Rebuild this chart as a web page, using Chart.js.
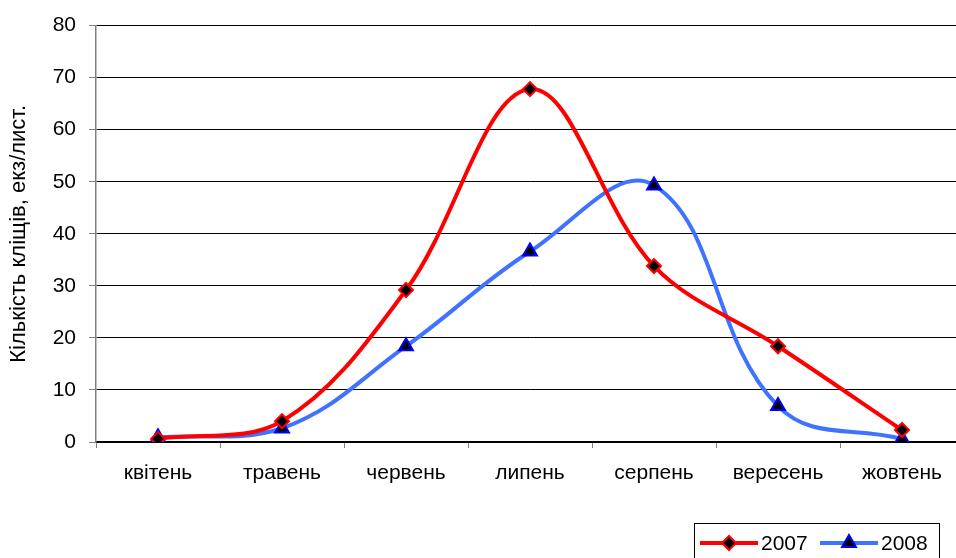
<!DOCTYPE html>
<html>
<head>
<meta charset="utf-8">
<script src="https://cdn.jsdelivr.net/npm/chart.js@4"></script>
<style>
  body { margin: 0; overflow: hidden; background: #fff; }
  canvas { display: block; }
</style>
</head>
<body>
<canvas id="myChart" width="974" height="558"></canvas>
<script>
const months = ["квітень", "травень", "червень", "липень", "серпень", "вересень", "жовтень"];
const ticks2007 = [0.6, 4.0, 29.2, 67.8, 33.8, 18.4, 2.3];
const ticks2008 = [0.9, 2.6, 18.4, 36.6, 49.3, 6.9, 0.6];
const yTitle = "Кількість кліщів, екз/лист.";

const FONT = "'Liberation Sans', Arial, sans-serif";

// legend drawn by hand, boxed at the bottom right like the original
const boxLegend = {
  id: "boxLegend",
  afterDraw(chart) {
    const c = chart.ctx;
    c.save();
    c.strokeStyle = "#000";
    c.lineWidth = 1;
    c.strokeRect(694.5, 523.5, 245, 50);
    const items = [
      { x: 700, ds: 0 },
      { x: 820, ds: 1 },
    ];
    items.forEach(it => {
      const d = chart.data.datasets[it.ds];
      c.strokeStyle = d.borderColor;
      c.lineWidth = 4;
      c.beginPath();
      c.moveTo(it.x, 543);
      c.lineTo(it.x + 58, 543);
      c.stroke();
      c.fillStyle = d.pointBackgroundColor;
      c.strokeStyle = d.pointBorderColor;
      c.lineWidth = d.pointBorderWidth;
      Chart.helpers.drawPoint(c, {
        pointStyle: d.pointStyle,
        radius: d.pointRadius,
        borderWidth: d.pointBorderWidth,
      }, it.x + 29, 543);
      c.fillStyle = "#000";
      c.font = "21px " + FONT;
      c.textBaseline = "middle";
      c.fillText(d.label, it.x + 61, 544);
    });
    c.restore();
  },
};

const ctx = document.getElementById("myChart");

new Chart(ctx, {
  type: "line",
  data: {
    labels: months,
    datasets: [
      {
        label: "2007",
        data: ticks2007,
        borderColor: "#ff0000",
        borderWidth: 4,
        tension: 0.36,
        pointStyle: "rectRot",
        pointRadius: 7,
        pointBackgroundColor: "#000",
        pointBorderColor: "#ff0000",
        pointBorderWidth: 2,
      },
      {
        label: "2008",
        data: ticks2008,
        borderColor: "#3f72ff",
        borderWidth: 4,
        tension: 0.4,
        pointStyle: "triangle",
        pointRadius: 8,
        pointBackgroundColor: "#000",
        pointBorderColor: "#0000ff",
        pointBorderWidth: 2,
      },
    ],
  },
  options: {
    responsive: false,
    animation: false,
    layout: { padding: { top: 25, right: 0, left: 0, bottom: 0 } },
    plugins: {
      legend: { display: false },
      tooltip: { enabled: false },
    },
    scales: {
      x: {
        offset: true,
        afterFit(scale) { scale.height = 116; },
        grid: {
          offset: true,
          drawOnChartArea: false,
          drawTicks: true,
          tickLength: 6,
          color: "#808080",
        },
        border: { color: "#000", width: 1.5 },
        ticks: {
          color: "#000",
          padding: 13,
          font: { family: FONT, size: 21 },
        },
      },
      y: {
        min: 0,
        max: 80,
        afterFit(scale) { scale.width = 96; },
        grid: {
          color: "#000",
          lineWidth: 1,
          tickLength: 7,
          tickColor: "#808080",
        },
        border: { color: "#808080", width: 1.5 },
        ticks: {
          stepSize: 10,
          color: "#000",
          padding: 13,
          font: { family: FONT, size: 21 },
        },
        title: {
          display: true,
          text: yTitle,
          color: "#000",
          padding: { top: 6, bottom: 0 },
          font: { family: FONT, size: 22 },
        },
      },
    },
  },
  plugins: [boxLegend],
});
</script>
</body>
</html>
